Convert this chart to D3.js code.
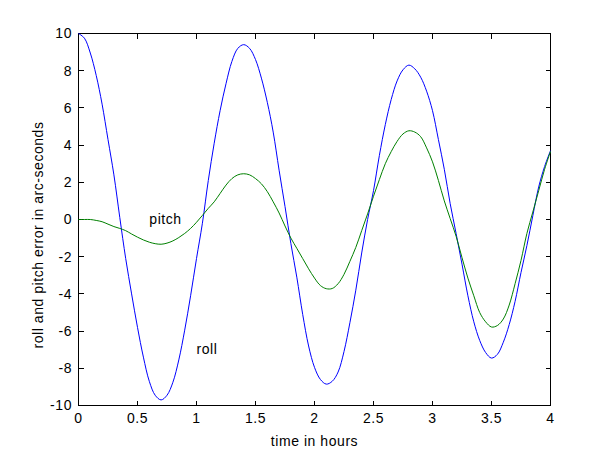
<!DOCTYPE html>
<html><head><meta charset="utf-8">
<script src="https://cdn.jsdelivr.net/npm/d3@7"></script>
<style>
body{margin:0;background:#fff;}
text{font-family:Arial,"Liberation Sans",Helvetica,sans-serif;font-size:14px;letter-spacing:0.55px;fill:#000;}
</style></head><body>
<svg id="c" width="600" height="450"></svg>
<script>
const time = d3.range(81).map(i => +(i * 0.05).toFixed(2));
const roll = [10.0,9.75,8.95,7.75,6.2,4.3,2.4,0.1,-2.1,-4.0,-5.8,-7.4,-8.7,-9.45,-9.7,-9.45,-8.75,-7.55,-5.95,-4.1,
  -2.1,-0.2,2.1,4.1,5.85,7.3,8.5,9.2,9.4,9.2,8.6,7.6,6.3,4.7,2.65,0.7,-1.3,-3.1,-5.1,-6.8,
  -7.95,-8.6,-8.85,-8.7,-8.2,-7.1,-5.55,-3.8,-1.8,0.0,1.55,3.45,5.1,6.45,7.45,8.05,8.3,8.1,7.65,6.9,
  5.85,4.3,2.7,0.85,-0.75,-2.4,-4.1,-5.5,-6.5,-7.15,-7.45,-7.25,-6.6,-5.65,-4.4,-2.85,-1.4,0.2,1.75,2.85,3.7];
const pitch = [0,0,0,-0.05,-0.12,-0.25,-0.38,-0.48,-0.6,-0.78,-0.95,-1.1,-1.22,-1.3,-1.33,-1.27,-1.15,-0.97,-0.75,-0.48,
  -0.15,0.22,0.6,0.95,1.4,1.85,2.2,2.4,2.46,2.4,2.2,1.92,1.5,0.95,0.35,-0.35,-1.0,-1.55,-2.1,-2.65,
  -3.15,-3.55,-3.72,-3.71,-3.45,-2.95,-2.25,-1.5,-0.6,0.3,1.25,2.15,3.0,3.65,4.2,4.6,4.77,4.7,4.45,3.85,
  3.1,2.1,1.0,0.05,-0.9,-2.05,-3.15,-4.1,-5.0,-5.5,-5.78,-5.7,-5.35,-4.6,-3.45,-2.2,-0.75,0.4,1.55,2.7,3.66];
const xTicks = [0,0.5,1,1.5,2,2.5,3,3.5,4];
const yTicks = [-10,-8,-6,-4,-2,0,2,4,6,8,10];
const annotations = [{label:"pitch", t:0.6, v:0}, {label:"roll", t:1.0, v:-7}];
const xTitle = "time in hours";
const yTitle = "roll and pitch error in arc-seconds";

const svg = d3.select("#c");
const L=78.5, R=550.5, T=33.5, B=405.5;
const x = d3.scaleLinear().domain([0,4]).range([L,R]);
const y = d3.scaleLinear().domain([-10,10]).range([B,T]);
const tl = 5;

svg.append("rect").attr("x",L).attr("y",T).attr("width",R-L).attr("height",B-T)
  .attr("fill","#fff").attr("stroke","#000").attr("stroke-width",1).attr("shape-rendering","crispEdges");

const tg = svg.append("g").attr("stroke","#000").attr("shape-rendering","crispEdges");
xTicks.forEach(t=>{
  const px=Math.round(x(t)-0.5)+0.5;
  tg.append("line").attr("x1",px).attr("x2",px).attr("y1",B).attr("y2",B-tl);
  tg.append("line").attr("x1",px).attr("x2",px).attr("y1",T).attr("y2",T+tl);
});
yTicks.forEach(v=>{
  const py=Math.round(y(v)-0.5)+0.5;
  tg.append("line").attr("x1",L).attr("x2",L+tl).attr("y1",py).attr("y2",py);
  tg.append("line").attr("x1",R).attr("x2",R-tl).attr("y1",py).attr("y2",py);
});

svg.append("g").selectAll("text").data(xTicks).join("text")
  .attr("x",d=>x(d)).attr("y",423).attr("text-anchor","middle").text(d=>d3.format("")(d));
svg.append("g").selectAll("text").data(yTicks).join("text")
  .attr("x",72).attr("y",d=>y(d)).attr("dy","0.35em").attr("text-anchor","end").text(d=>d);

const line = d3.line().x((d,i)=>x(time[i])).y(d=>y(d)).curve(d3.curveCatmullRom);
svg.append("path").datum(roll).attr("d",line).attr("fill","none").attr("stroke","#0000ff").attr("stroke-width",1);
svg.append("path").datum(pitch).attr("d",line).attr("fill","none").attr("stroke","#008000").attr("stroke-width",1);

svg.append("g").selectAll("text").data(annotations).join("text")
  .attr("x",d=>x(d.t)).attr("y",d=>y(d.v)).attr("dy","0.32em").text(d=>d.label);

svg.append("text").attr("x",(L+R)/2).attr("y",446).attr("text-anchor","middle").text(xTitle);
svg.append("text").attr("transform","translate(43,235) rotate(-90)").attr("text-anchor","middle").text(yTitle);
</script></body></html>
